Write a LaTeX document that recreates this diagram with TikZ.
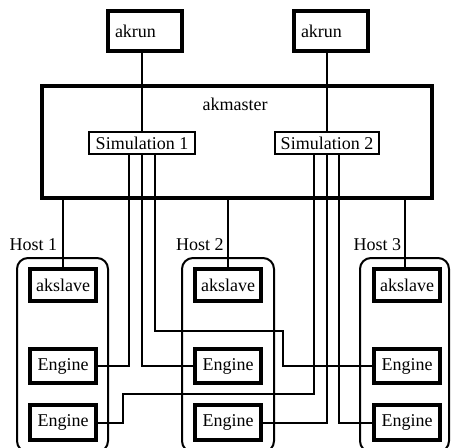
\documentclass[tikz,border=0pt]{standalone}
\usepackage{fontspec}
\setmainfont{Liberation Serif}
\begin{document}
\begin{tikzpicture}[x=1pt,y=-1pt,
  every node/.style={font=\fontsize{18}{20}\selectfont, inner sep=0pt},
  thickbox/.style={draw, line width=4pt, minimum width=66pt, minimum height=32pt},
  runbox/.style={draw, line width=4pt, minimum height=40pt, text width=60pt, align=left, inner xsep=7pt},
  simbox/.style={draw, line width=2pt, minimum height=22pt},
  hostbox/.style={draw, line width=2pt, rounded corners=11pt},
  conn/.style={line width=2pt}]
\useasboundingbox (0,0) rectangle (451,448);
\clip (0,0) rectangle (451,448);
% hosts
\node[hostbox, minimum width=91pt, minimum height=194pt] (h1) at (62.5,355) {};
\node[hostbox, minimum width=92pt, minimum height=194pt] (h2) at (228,355) {};
\node[hostbox, minimum width=89pt, minimum height=194pt] (h3) at (404.5,355) {};
\node (h1t) at (33.5,245) {Host 1};
\node (h2t) at (200,245) {Host 2};
\node (h3t) at (377.5,245) {Host 3};
% top
\node[runbox] (r1) at (145,31) {akrun};
\node[runbox] (r2) at (331,31) {akrun};
\node[draw, line width=4pt, minimum width=390pt, minimum height=112pt] (m) at (237,142) {};
\node (mt) at (235,104) {akmaster};
\node[simbox, minimum width=106pt] (s1) at (142,143) {Simulation 1};
\node[simbox, minimum width=104pt] (s2) at (327,143) {Simulation 2};
% slaves and engines
\node[thickbox] (a1) at (63,285) {akslave};
\node[thickbox] (a2) at (228,285) {akslave};
\node[thickbox] (a3) at (407,285) {akslave};
\node[thickbox, minimum height=34pt] (e11) at (63,366) {Engine};
\node[thickbox, minimum height=34pt] (e21) at (228,366) {Engine};
\node[thickbox, minimum height=34pt] (e31) at (407,366) {Engine};
\node[thickbox, minimum height=35pt] (e12) at (63,422.5) {Engine};
\node[thickbox, minimum height=35pt] (e22) at (228,422.5) {Engine};
\node[thickbox, minimum height=35pt] (e32) at (407,422.5) {Engine};
\coordinate (k1) at (283,331);
\coordinate (k2) at (123,394);
% connectors
\draw[conn] (r1.south -| s1.north) -- (s1.north);
\draw[conn] (r2.south -| s2.north) -- (s2.north);
\draw[conn] (a1.north |- m.south) -- (a1.north);
\draw[conn] (a2.north |- m.south) -- (a2.north);
\draw[conn] ([xshift=-2pt]a3.north |- m.south) -- ([xshift=-2pt]a3.north);
\draw[conn] ([xshift=-13pt]s1.south) |- (e11.east);
\draw[conn] (s1.south) |- (e21.west);
\draw[conn] ([xshift=13pt]s1.south) |- (k1) |- (e31.west);
\draw[conn] ([xshift=-13pt]s2.south) |- (k2) |- (e12.east);
\draw[conn] (s2.south) |- (e22.east);
\draw[conn] ([xshift=12pt]s2.south) |- (e32.west);
\end{tikzpicture}
\end{document}
